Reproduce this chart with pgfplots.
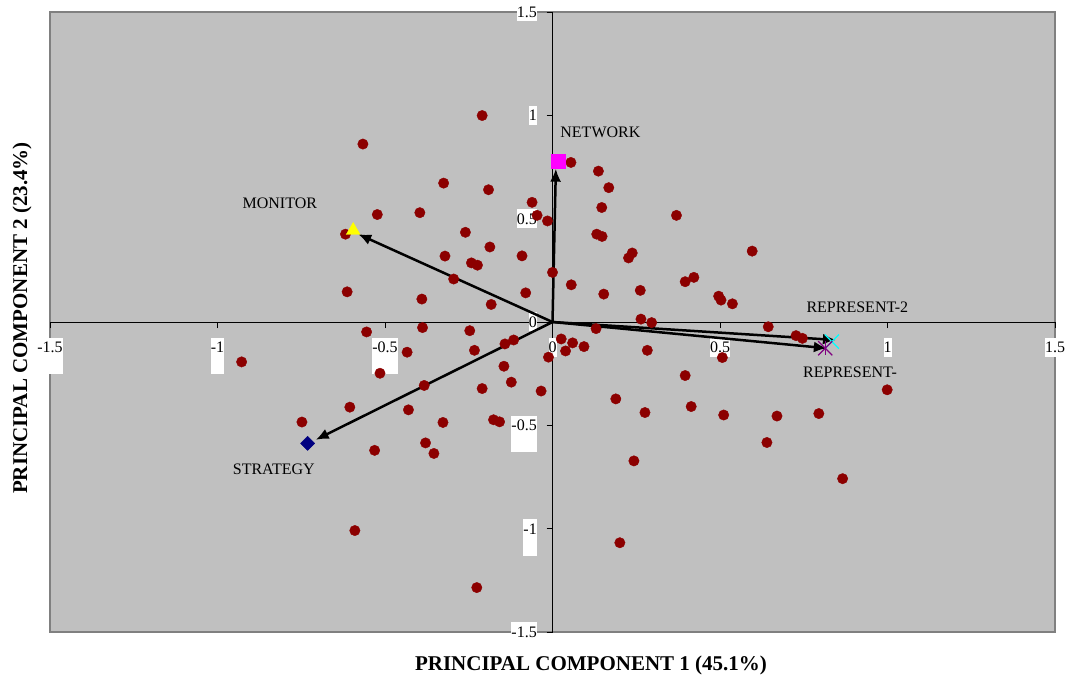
\documentclass[border=0pt]{standalone}
\usepackage{fontspec}
\setmainfont{Liberation Serif}
\usepackage{pgfplots}
\pgfplotsset{compat=1.18}
\usetikzlibrary{arrows.meta}
\definecolor{plotgray}{RGB}{192,192,192}
\definecolor{bordergray}{RGB}{128,128,128}
\definecolor{dotred}{RGB}{140,0,0}
\definecolor{navyblue}{RGB}{0,0,128}
\definecolor{purplex}{RGB}{128,0,128}
\definecolor{pmag}{RGB}{255,0,255}
\definecolor{pcyan}{RGB}{0,255,255}
\definecolor{pyellow}{RGB}{255,255,0}
\newcommand\lblfont{\fontsize{16bp}{19bp}\selectfont}
\newcommand\titlefont{\fontsize{21bp}{25bp}\selectfont\bfseries}
\newcommand\posl[1]{\rule[-4bp]{0pt}{19bp}#1}
\newcommand\negl[1]{\rule[-21.5bp]{0pt}{36.5bp}#1}
\pgfplotsset{
  layers/mylay/.define layer set={axis background,axis grid,axis ticks,axis lines,pre main,main,axis tick labels,axis descriptions,axis foreground}{},
}
\begin{document}
\begin{tikzpicture}
\begin{axis}[
  set layers=mylay,
  at={(50bp,45bp)}, anchor=south west,
  scale only axis, width=1005bp, height=620bp,
  xmin=-1.5, xmax=1.5, ymin=-1.5, ymax=1.5,
  axis lines=middle,
  axis line style={-, black, line width=0.8bp},
  axis background/.style={fill=plotgray, draw=bordergray, line width=1.5bp},
  hide obscured x ticks=false, hide obscured y ticks=false,
  xtick={-1.5,-1,-0.5,0,0.5,1,1.5},
  ytick={-1.5,-1,-0.5,0,0.5,1,1.5},
  xticklabels={\negl{-1.5},\negl{-1},\negl{-0.5},\posl{0},\posl{0.5},\posl{1},\posl{1.5}},
  yticklabels={\negl{-1.5},\negl{-1},\negl{-0.5},\posl{0},\posl{0.5},\posl{1},\posl{1.5}},
  tick align=outside, major tick length=6bp,
  tick style={black, line width=0.8bp},
  xticklabel style={anchor=north, inner sep=0pt, fill=white, font=\lblfont},
  xticklabel shift=9.5bp,
  yticklabel style={anchor=base east, inner sep=0pt, fill=white, yshift=-5.4bp, font=\lblfont},
  yticklabel shift=9.5bp,
  xlabel={PRINCIPAL COMPONENT 1 (45.1\%)},
  ylabel={PRINCIPAL COMPONENT 2 (23.4\%)},
  every axis x label/.style={at={(axis description cs:0.5383,-0.0532)}, anchor=center, font=\titlefont},
  every axis y label/.style={at={(axis description cs:-0.0279,0.5065)}, anchor=center, rotate=90, font=\titlefont},
  clip=false,
]
\addplot[only marks, mark=*, mark size=5.2bp, mark options={fill=dotred, draw=dotred}] coordinates {
(-0.566,0.861) (-0.325,0.672) (-0.523,0.520) (-0.396,0.529) (-0.618,0.425)
(-0.321,0.319) (-0.295,0.208) (-0.613,0.146) (-0.390,0.111) (-0.388,-0.027)
(-0.555,-0.048) (-0.210,0.999) (0.055,0.772) (0.137,0.730) (0.168,0.650)
(-0.191,0.640) (-0.061,0.579) (-0.046,0.516) (-0.015,0.489) (0.147,0.554)
(0.370,0.516) (-0.260,0.434) (0.132,0.425) (0.148,0.414) (-0.187,0.363)
(0.238,0.334) (0.227,0.310) (-0.091,0.320) (-0.242,0.286) (-0.224,0.275)
(0.000,0.240) (0.056,0.180) (-0.080,0.141) (0.153,0.135) (0.262,0.153)
(-0.183,0.085) (0.264,0.014) (0.296,-0.003) (0.596,0.343) (0.396,0.195)
(0.422,0.216) (0.496,0.125) (0.503,0.106) (0.537,0.088) (0.644,-0.023)
(-0.434,-0.146) (-0.928,-0.193) (-0.515,-0.248) (-0.383,-0.307) (-0.605,-0.412)
(-0.430,-0.425) (-0.748,-0.484) (-0.327,-0.486) (-0.531,-0.621) (-0.379,-0.585)
(-0.354,-0.636) (-0.590,-1.009) (-0.247,-0.042) (-0.233,-0.137) (-0.142,-0.106)
(-0.116,-0.087) (-0.145,-0.214) (-0.123,-0.291) (-0.210,-0.322) (-0.034,-0.334)
(-0.176,-0.473) (-0.158,-0.483) (-0.012,-0.170) (0.026,-0.082) (0.039,-0.140)
(0.060,-0.101) (0.094,-0.119) (0.130,-0.032) (0.283,-0.137) (0.189,-0.372)
(0.276,-0.438) (0.243,-0.672) (0.201,-1.068) (-0.226,-1.285) (0.727,-0.066)
(0.746,-0.079) (0.507,-0.172) (0.396,-0.259) (0.999,-0.328) (0.414,-0.409)
(0.511,-0.450) (0.670,-0.455) (0.795,-0.443) (0.640,-0.583) (0.866,-0.758)
};
% variable vectors: markers
\addplot[only marks, mark=triangle*, mark size=8bp, mark options={fill=pyellow, draw=pyellow}] coordinates {(-0.595,0.443)};
\addplot[only marks, mark=square*, mark size=7bp, mark options={fill=pmag, draw=pmag}] coordinates {(0.016,0.776)};
\addplot[only marks, mark=square*, mark size=5bp, mark options={fill=navyblue, draw=navyblue, rotate=45}] coordinates {(-0.731,-0.587)};
\addplot[only marks, mark=x, mark size=10bp, mark options={draw=pcyan, line width=1.3bp}] coordinates {(0.834,-0.095)};
\addplot[only marks, mark=x, mark size=10bp, mark options={draw=purplex, line width=1.3bp}] coordinates {(0.814,-0.127)};
\addplot[only marks, mark=|, mark size=7bp, mark options={draw=purplex, line width=1.3bp}] coordinates {(0.814,-0.127)};
% arrows
\addplot[black, line width=2.5bp, -{Latex[length=13bp,width=11bp]}] coordinates {(0,0) (-0.580,0.425)};
\addplot[black, line width=2.5bp, -{Latex[length=13bp,width=11bp]}] coordinates {(0,0) (0.010,0.742)};
\addplot[black, line width=2.5bp, -{Latex[length=13bp,width=11bp]}] coordinates {(0,0) (-0.707,-0.570)};
\addplot[black, line width=2.5bp, -{Latex[length=13bp,width=11bp]}] coordinates {(0,0) (0.846,-0.087)};
\addplot[black, line width=2.5bp, -{Latex[length=13bp,width=11bp]}] coordinates {(0,0) (0.819,-0.127)};
% labels
\node[font=\lblfont] at (axis cs:-0.814,0.576) {MONITOR};
\node[font=\lblfont] at (axis cs:0.143,0.918) {NETWORK};
\node[font=\lblfont] at (axis cs:-0.832,-0.714) {STRATEGY};
\node[font=\lblfont] at (axis cs:0.910,0.069) {REPRESENT-2};
\node[font=\lblfont] at (axis cs:0.888,-0.245) {REPRESENT-};
\end{axis}
\pgfresetboundingbox
\path[use as bounding box] ([shift={(-50bp,-45bp)}]current axis.south west) rectangle ([shift={(10bp,12bp)}]current axis.north east);
\end{tikzpicture}
\end{document}
